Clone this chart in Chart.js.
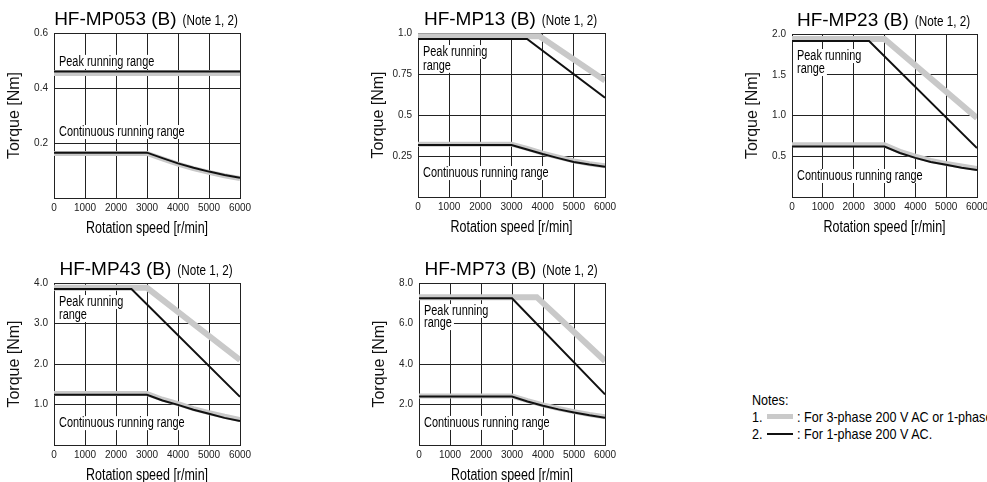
<!DOCTYPE html>
<html>
<head>
<meta charset="utf-8">
<script src="https://cdn.jsdelivr.net/npm/chart.js@4.4.1/dist/chart.umd.min.js"></script>
<style>
  html, body { margin: 0; padding: 0; background: #fff; }
  body { width: 987px; height: 482px; overflow: hidden; position: relative;
         font-family: "Liberation Sans", Arial, sans-serif; color: #000; }
  canvas { position: absolute; }
  .nt { position: absolute; font-size: 15px; line-height: 17px; white-space: nowrap;
        transform: scaleX(0.84); transform-origin: 0 50%; }
  .sw { position: absolute; left: 767px; width: 26px; }
</style>
</head>
<body>
<canvas id="mp053" width="251" height="240" style="left:4px;top:0px"></canvas>
<canvas id="mp13" width="252" height="239" style="left:368px;top:0px"></canvas>
<canvas id="mp23" width="250" height="238" style="left:742px;top:1px"></canvas>
<canvas id="mp43" width="251" height="237" style="left:4px;top:250px"></canvas>
<canvas id="mp73" width="251" height="237" style="left:369px;top:250px"></canvas>

<div class="nt" style="left:752px;top:391px">Notes:</div>
<div class="nt" style="left:752px;top:408px">1.</div>
<div class="sw" style="top:414px;height:5px;background:#cacaca"></div>
<div class="nt" style="left:797px;top:408px">: For 3-phase 200 V AC or 1-phase 230 V AC.</div>
<div class="nt" style="left:752px;top:425px">2.</div>
<div class="sw" style="top:433px;height:2px;background:#111"></div>
<div class="nt" style="left:797px;top:425px">: For 1-phase 200 V AC.</div>

<script>
// rotation speed axis
const speedLabels = ['0', '1000', '2000', '3000', '4000', '5000', '6000'];

// [speed r/min, torque Nm]; "1ph" = 1-phase 200 V AC (black), "3ph" = 3-phase 200 V AC (grey)
const mp053Peak1ph = [[0, 0.46], [6000, 0.46]];
const mp053Peak3ph = [[0, 0.455], [6000, 0.455]];
const mp053Cont1ph = [[0, 0.165], [3000, 0.165], [3500, 0.145], [4000, 0.126], [4500, 0.11], [5000, 0.096], [5500, 0.084], [6000, 0.074]];
const mp053Cont3ph = [[0, 0.162], [3000, 0.162], [3500, 0.142], [4000, 0.123], [4500, 0.107], [5000, 0.093], [5500, 0.081], [6000, 0.071]];
const mp053Ticks = ['', '0.2', '0.4', '0.6'];

const mp13Peak1ph = [[0, 0.963], [3500, 0.963], [6000, 0.605]];
const mp13Peak3ph = [[0, 0.98], [3900, 0.98], [6000, 0.71]];
const mp13Cont1ph = [[0, 0.317], [3000, 0.317], [3500, 0.29], [4000, 0.262], [4500, 0.237], [5000, 0.214], [5500, 0.198], [6000, 0.185]];
const mp13Cont3ph = [[0, 0.322], [3000, 0.322], [3500, 0.296], [4000, 0.268], [4500, 0.243], [5000, 0.22], [5500, 0.203], [6000, 0.19]];
const mp13Ticks = ['', '0.25', '0.5', '0.75', '1.0'];

const mp23Peak1ph = [[0, 1.915], [2500, 1.915], [6000, 0.6]];
const mp23Peak3ph = [[0, 1.94], [3000, 1.94], [6000, 0.97]];
const mp23Cont1ph = [[0, 0.62], [3000, 0.62], [3500, 0.54], [4000, 0.48], [4500, 0.43], [5000, 0.395], [5500, 0.36], [6000, 0.33]];
const mp23Cont3ph = [[0, 0.64], [3000, 0.64], [3500, 0.56], [4000, 0.5], [4500, 0.45], [5000, 0.41], [5500, 0.38], [6000, 0.35]];
const mp23Ticks = ['', '0.5', '1.0', '1.5', '2.0'];

const mp43Peak1ph = [[0, 3.85], [2500, 3.85], [6000, 1.19]];
const mp43Peak3ph = [[0, 3.88], [3000, 3.88], [6000, 2.1]];
const mp43Cont1ph = [[0, 1.24], [3000, 1.24], [3500, 1.1], [4000, 0.99], [4500, 0.87], [5000, 0.77], [5500, 0.67], [6000, 0.59]];
const mp43Cont3ph = [[0, 1.27], [3000, 1.27], [3500, 1.13], [4000, 1.02], [4500, 0.9], [5000, 0.8], [5500, 0.71], [6000, 0.63]];
const mp43Ticks = ['', '1.0', '2.0', '3.0', '4.0'];

const mp73Peak1ph = [[0, 7.25], [3000, 7.25], [6000, 2.5]];
const mp73Peak3ph = [[0, 7.3], [3800, 7.3], [6000, 4.15]];
const mp73Cont1ph = [[0, 2.39], [3000, 2.39], [3500, 2.15], [4000, 1.94], [4500, 1.76], [5000, 1.61], [5500, 1.47], [6000, 1.35]];
const mp73Cont3ph = [[0, 2.42], [3000, 2.42], [3500, 2.19], [4000, 1.98], [4500, 1.8], [5000, 1.65], [5500, 1.51], [6000, 1.39]];
const mp73Ticks = ['', '2.0', '4.0', '6.0', '8.0'];

const SANS = '"Liberation Sans", Arial, sans-serif';
const INK = '#000';
const GREY = '#c9c9c9';

// no condensed face installed, so condensed text is Liberation Sans squeezed sideways
function narrow(ctx, text, x, y, size, squeeze, align) {
  ctx.save();
  ctx.font = size + 'px ' + SANS;
  ctx.translate(x, y);
  ctx.scale(squeeze, 1);
  ctx.textAlign = align || 'left';
  ctx.fillText(text, 0, 0);
  ctx.restore();
}
function narrowWidth(ctx, text, size, squeeze) {
  ctx.save();
  ctx.font = size + 'px ' + SANS;
  const w = ctx.measureText(text).width * squeeze;
  ctx.restore();
  return w;
}

// range captions, heading and x-axis title
const textPlugin = {
  id: 'rangeText',
  beforeDatasetsDraw(chart, args, opts) {
    const ctx = chart.ctx, area = chart.chartArea, ys = chart.scales.y;
    ctx.save();
    ctx.textBaseline = 'middle';
    opts.labels.forEach(l => {
      const py = ys.getPixelForValue(l.at);
      const w = narrowWidth(ctx, l.text, 14, 0.78);
      ctx.fillStyle = '#fff';
      ctx.fillRect(area.left + 1, py - 7, w + 6, 14);
      ctx.fillStyle = INK;
      narrow(ctx, l.text, area.left + 5, py, 14, 0.78);
    });
    ctx.restore();
  },
  afterDraw(chart, args, opts) {
    const ctx = chart.ctx, area = chart.chartArea;
    const mid = (area.left + area.right) / 2;
    ctx.save();
    ctx.fillStyle = INK;
    ctx.textBaseline = 'alphabetic';
    ctx.font = '19px ' + SANS;
    const w1 = ctx.measureText(opts.title).width;
    const w2 = narrowWidth(ctx, '(Note 1, 2)', 15, 0.78);
    const x = mid - (w1 + 6 + w2) / 2 - 1;
    const base = area.top - 8;
    ctx.fillText(opts.title, x, base);
    narrow(ctx, '(Note 1, 2)', x + w1 + 6, base, 15, 0.78);
    ctx.textBaseline = 'middle';
    narrow(ctx, 'Rotation speed [r/min]', mid, area.bottom + 31, 16, 0.78, 'center');
    ctx.restore();
  }
};

const pts = pairs => pairs.map(([x, y]) => ({ x: x, y: y }));
const blackLine = pairs => ({ data: pts(pairs), borderColor: '#111', borderWidth: 2, pointRadius: 0, tension: 0, fill: false });
const greyLine = (pairs, w) => ({ data: pts(pairs), borderColor: GREY, borderWidth: w, pointRadius: 0, tension: 0, fill: false });

function makeChart(id, title, peak1, peak3, cont1, cont3, yMax, yStep, yLabels, labels) {
  new Chart(document.getElementById(id), {
    type: 'line',
    data: {
      datasets: [blackLine(peak1), blackLine(cont1), greyLine(peak3, 6), greyLine(cont3, 5)]
    },
    options: {
      responsive: false,
      animation: false,
      devicePixelRatio: 1,
      layout: { padding: { top: 33, right: 15, left: 0, bottom: 0 } },
      plugins: {
        legend: { display: false },
        tooltip: { enabled: false },
        rangeText: { title: title, labels: labels }
      },
      scales: {
        x: {
          type: 'linear', min: 0, max: 6000,
          ticks: { stepSize: 1000, autoSkip: false, maxRotation: 0, padding: 4, color: '#222',
                   font: { family: SANS, size: 10 }, callback: (v, i) => speedLabels[i] },
          grid: { color: '#222', lineWidth: 1, drawTicks: false },
          border: { color: '#222', width: 1 },
          afterFit(s) { s.height = 42; s.paddingLeft = 0; s.paddingRight = 0; }
        },
        y: {
          type: 'linear', min: 0, max: yMax,
          ticks: { stepSize: yStep, padding: 6, color: '#222',
                   font: { family: SANS, size: 10 }, callback: (v, i) => yLabels[i] },
          grid: { color: '#222', lineWidth: 1, drawTicks: false },
          border: { color: '#222', width: 1 },
          title: { display: true, text: 'Torque [Nm]', color: '#111',
                   font: { family: SANS, size: 16 }, padding: { top: 1, bottom: 0 } },
          afterFit(s) { s.width = 50; s.paddingTop = 0; s.paddingBottom = 0; }
        }
      }
    },
    plugins: [textPlugin]
  });
}

makeChart('mp053', 'HF-MP053 (B)', mp053Peak1ph, mp053Peak3ph, mp053Cont1ph, mp053Cont3ph, 0.6, 0.2, mp053Ticks,
  [{ text: 'Peak running range', at: 0.495 }, { text: 'Continuous running range', at: 0.24 }]);
makeChart('mp13', 'HF-MP13 (B)', mp13Peak1ph, mp13Peak3ph, mp13Cont1ph, mp13Cont3ph, 1.0, 0.25, mp13Ticks,
  [{ text: 'Peak running', at: 0.884 }, { text: 'range', at: 0.8 }, { text: 'Continuous running range', at: 0.146 }]);
makeChart('mp23', 'HF-MP23 (B)', mp23Peak1ph, mp23Peak3ph, mp23Cont1ph, mp23Cont3ph, 2.0, 0.5, mp23Ticks,
  [{ text: 'Peak running', at: 1.73 }, { text: 'range', at: 1.57 }, { text: 'Continuous running range', at: 0.258 }]);
makeChart('mp43', 'HF-MP43 (B)', mp43Peak1ph, mp43Peak3ph, mp43Cont1ph, mp43Cont3ph, 4.0, 1.0, mp43Ticks,
  [{ text: 'Peak running', at: 3.53 }, { text: 'range', at: 3.21 }, { text: 'Continuous running range', at: 0.54 }]);
makeChart('mp73', 'HF-MP73 (B)', mp73Peak1ph, mp73Peak3ph, mp73Cont1ph, mp73Cont3ph, 8.0, 2.0, mp73Ticks,
  [{ text: 'Peak running', at: 6.62 }, { text: 'range', at: 6.02 }, { text: 'Continuous running range', at: 1.09 }]);
</script>
</body>
</html>
